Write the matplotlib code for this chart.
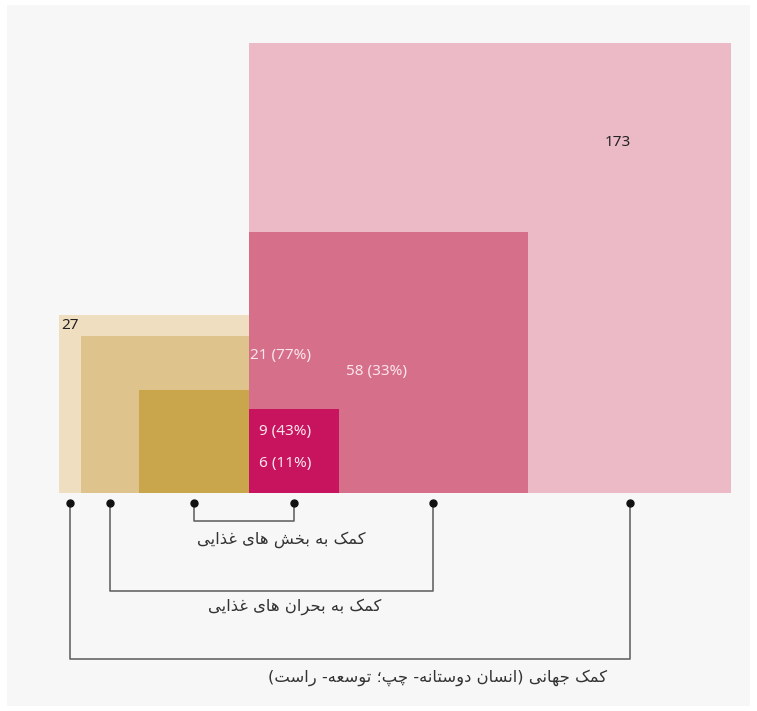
import numpy as np
import matplotlib
matplotlib.use("Agg")
import matplotlib.pyplot as plt
from matplotlib.patches import Rectangle

# ---------------- data ----------------
left_values = [27, 21, 9]          # humanitarian: total, food crises, food sectors
right_values = [173, 58, 6]        # development: total, food crises, food sectors
left_colors = ["#efdebf", "#dfc38c", "#c9a54b"]
right_colors = ["#ecbac6", "#d6708a", "#c8135e"]
left_labels = ["27", "21 (77%)", "9 (43%)"]
right_labels = ["173", "58 (33%)", "6 (11%)"]
bracket_labels = [
    "کمک به بخش های غذایی",
    "کمک به بحران های غذایی",
    "کمک جهانی (انسان دوستانه- چپ؛ توسعه- راست)",
]

# ---------------- minimal Persian shaping ----------------
# char: (isolated, final, initial, medial)
FORMS = {
    "ا": ("\uFE8D", "\uFE8E", None, None),
    "ب": ("\uFE8F", "\uFE90", "\uFE91", "\uFE92"),
    "ت": ("\uFE95", "\uFE96", "\uFE97", "\uFE98"),
    "ج": ("\uFE9D", "\uFE9E", "\uFE9F", "\uFEA0"),
    "ح": ("\uFEA1", "\uFEA2", "\uFEA3", "\uFEA4"),
    "خ": ("\uFEA5", "\uFEA6", "\uFEA7", "\uFEA8"),
    "د": ("\uFEA9", "\uFEAA", None, None),
    "ذ": ("\uFEAB", "\uFEAC", None, None),
    "ر": ("\uFEAD", "\uFEAE", None, None),
    "س": ("\uFEB1", "\uFEB2", "\uFEB3", "\uFEB4"),
    "ش": ("\uFEB5", "\uFEB6", "\uFEB7", "\uFEB8"),
    "ع": ("\uFEC9", "\uFECA", "\uFECB", "\uFECC"),
    "غ": ("\uFECD", "\uFECE", "\uFECF", "\uFED0"),
    "م": ("\uFEE1", "\uFEE2", "\uFEE3", "\uFEE4"),
    "ن": ("\uFEE5", "\uFEE6", "\uFEE7", "\uFEE8"),
    "ه": ("\uFEE9", "\uFEEA", "\uFEEB", "\uFEEC"),
    "و": ("\uFEED", "\uFEEE", None, None),
    "ک": ("\uFB8E", "\uFB8F", "\uFB90", "\uFB91"),
    "ی": ("\uFBFC", "\uFBFD", "\uFBFE", "\uFBFF"),
    "پ": ("\uFB56", "\uFB57", "\uFB58", "\uFB59"),
    "چ": ("\uFB7A", "\uFB7B", "\uFB7C", "\uFB7D"),
}
MIRROR = {"(": ")", ")": "("}


def dual(c):
    return c in FORMS and FORMS[c][2] is not None


def shape_rtl(text):
    out = []
    n = len(text)
    for i, c in enumerate(text):
        if c not in FORMS:
            out.append(MIRROR.get(c, c))
            continue
        prev_j = i > 0 and dual(text[i - 1])
        next_j = dual(c) and i + 1 < n and text[i + 1] in FORMS
        iso, fin, ini, med = FORMS[c]
        if prev_j and next_j:
            out.append(med)
        elif prev_j:
            out.append(fin)
        elif next_j:
            out.append(ini)
        else:
            out.append(iso)
    return "".join(out[::-1])


# ---------------- figure ----------------
W, H = 757, 711
fig = plt.figure(figsize=(W / 100, H / 100), dpi=100, facecolor="white")
ax = fig.add_axes([0, 0, 1, 1])
ax.set_facecolor("none")
ax.axis("off")
ax.add_patch(Rectangle((7 / W, 5 / H), 743 / W, 701 / H,
                       transform=fig.transFigure, facecolor="#f7f7f7",
                       edgecolor="none", zorder=0, clip_on=False))

# scale: data unit = side of a square of area 1
px_x, px_y = 36.65, 34.25
x0_px, y0_px = 249, 493
ax.set_xlim(-x0_px / px_x, (W - x0_px) / px_x)
ax.set_ylim(-(H - y0_px) / px_y, y0_px / px_y)

FONT = ["Noto Sans", "DejaVu Sans"]

ls = [np.sqrt(v) for v in left_values]
rs = [np.sqrt(v) for v in right_values]

for s, c in zip(ls, left_colors):
    ax.add_patch(Rectangle((-s, 0), s, s, facecolor=c, edgecolor="none", zorder=2))
for s, c in zip(rs, right_colors):
    ax.add_patch(Rectangle((0, 0), s, s, facecolor=c, edgecolor="none", zorder=2))


def px(xp, yp):
    return ((xp - x0_px) / px_x, (y0_px - yp) / px_y)


light = "#fbe6ec"
dark = "#222222"
# value labels
ax.text(-ls[0] + 3 / px_x, ls[0] - 10 / px_y, left_labels[0], ha="left", va="center",
        fontsize=11, color=dark, family=FONT, zorder=5)
ax.text(*px(618, 143), right_labels[0], ha="center", va="center",
        fontsize=11, color=dark, family=FONT, zorder=5)
ax.text(*px(250, 356), left_labels[1], ha="left", va="center",
        fontsize=11, color=light, family=FONT, zorder=5)
ax.text(*px(377, 371), right_labels[1], ha="center", va="center",
        fontsize=11, color=light, family=FONT, zorder=5)
ax.text(*px(259, 432), left_labels[2], ha="left", va="center",
        fontsize=11, color=light, family=FONT, zorder=5)
ax.text(*px(259, 463), right_labels[2], ha="left", va="center",
        fontsize=11, color=light, family=FONT, zorder=5)

# bracket anchor points: centres of the exclusive strips
lx = [-ls[0], -ls[1], -ls[2], 0.0]
rx = [0.0, rs[2], rs[1], rs[0]]
left_pts = [(lx[0] + lx[1]) / 2, (lx[1] + lx[2]) / 2, (lx[2] + lx[3]) / 2]
right_pts = [(rx[2] + rx[3]) / 2, (rx[1] + rx[2]) / 2, (rx[0] + rx[1]) / 2]

dot_y = px(0, 503)[1]
bottoms = [px(0, 659)[1], px(0, 591)[1], px(0, 521)[1]]
label_pos = [px(438, 678), px(295, 607), px(281, 540)]
label_order = [bracket_labels[2], bracket_labels[1], bracket_labels[0]]
line_c = "#666666"
for xl, xr, yb, (tx, ty), lab in zip(left_pts, right_pts, bottoms, label_pos, label_order):
    ax.plot([xl, xl, xr, xr], [dot_y, yb, yb, dot_y], color=line_c, lw=1.2, zorder=3)
    ax.plot([xl, xr], [dot_y, dot_y], "o", color="#111111", ms=5, zorder=4)
    ax.text(tx, ty, shape_rtl(lab), ha="center", va="center", fontsize=11.8,
            color="#333333", family=["DejaVu Sans"], zorder=5)

fig.savefig("out.png", dpi=100, facecolor="white")
